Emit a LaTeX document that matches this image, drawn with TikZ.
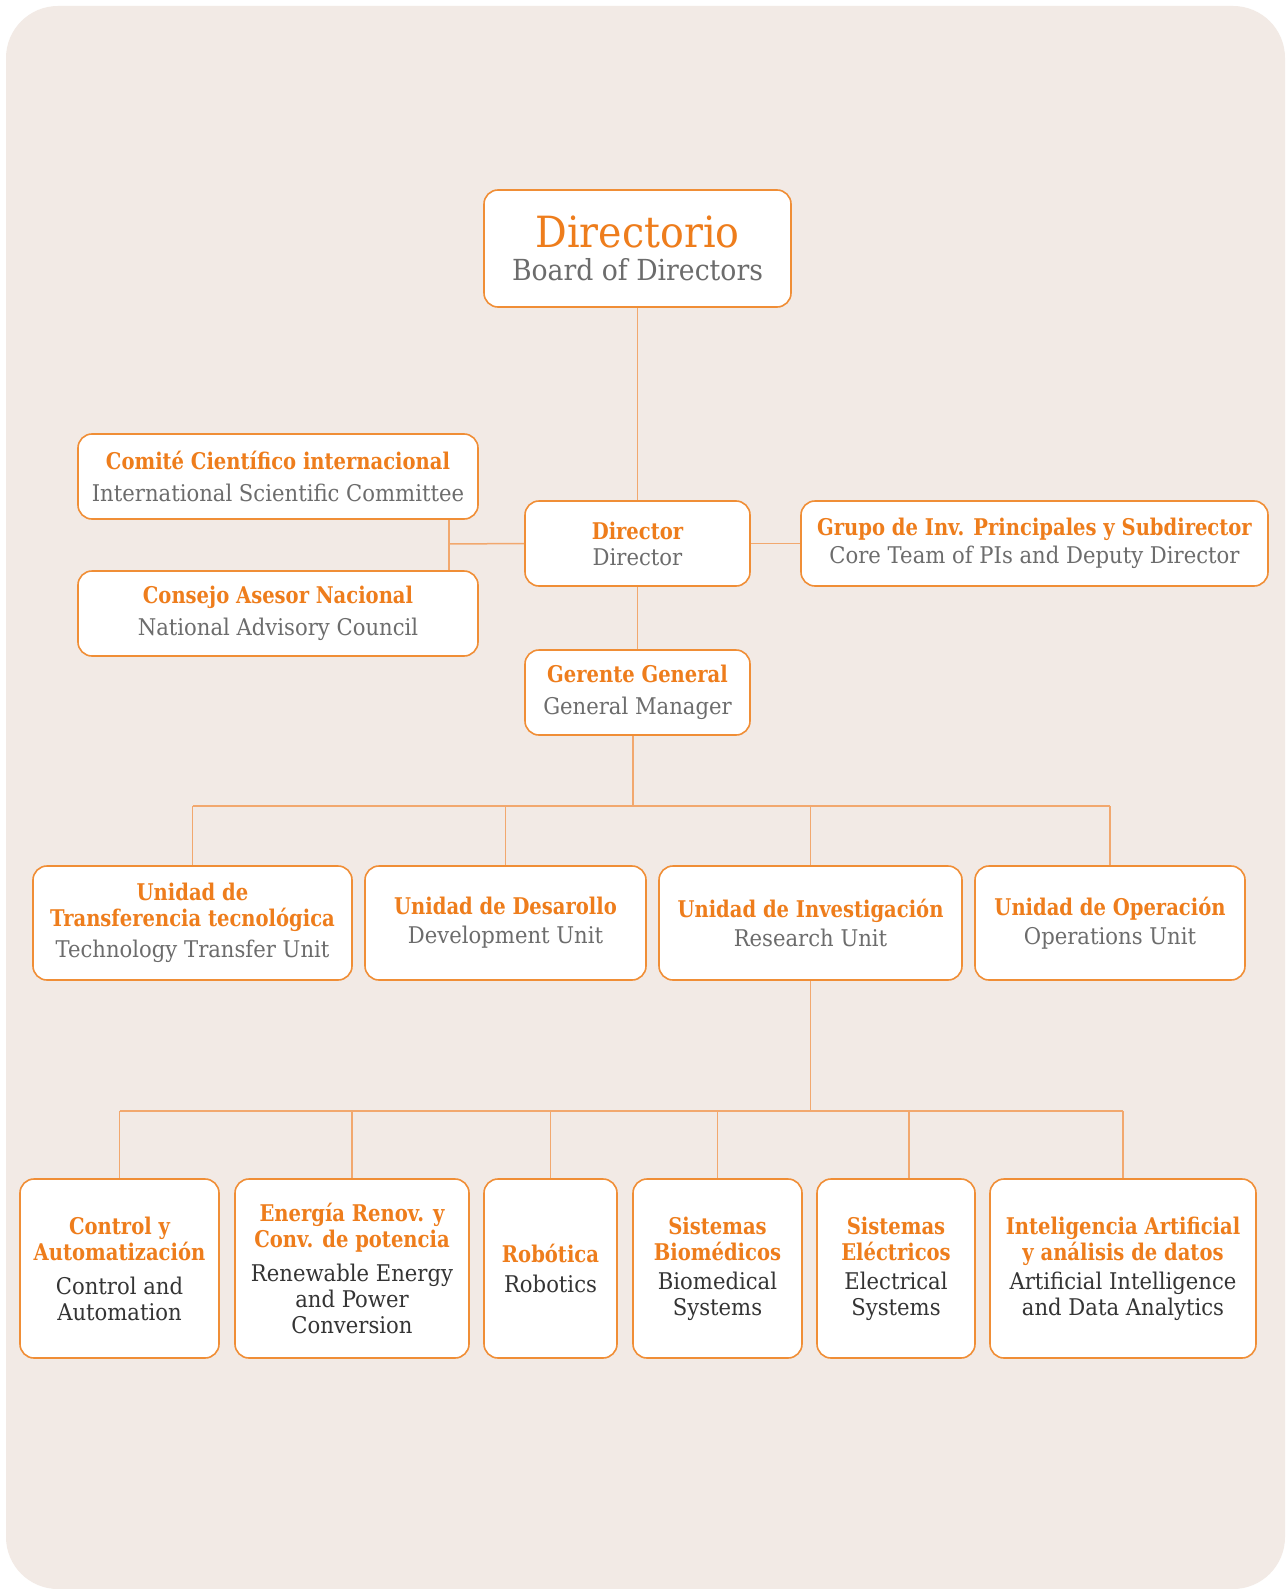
\documentclass[tikz,border=0pt]{standalone}
\usepackage{fontspec}
\setmainfont{DejaVu Serif}[FakeStretch=0.85]
\newfontfamily\engfont{DejaVu Serif}[FakeStretch=0.92]
\usepackage{tikz}
\usetikzlibrary{positioning,calc}
\usepackage{xcolor}
\definecolor{naranja}{RGB}{238,125,28}
\definecolor{borde}{RGB}{240,142,54}
\definecolor{linea}{RGB}{242,168,110}
\definecolor{gris}{RGB}{108,108,108}
\definecolor{oscuro}{RGB}{52,52,52}
\definecolor{fondo}{RGB}{242,234,229}
\newcommand{\es}[1]{{\color{naranja}\bfseries #1}}
\newcommand{\en}[1]{{\engfont\color{gris}#1}}
\newcommand{\enb}[1]{{\engfont\color{oscuro}#1}}

\begin{document}
\begin{tikzpicture}[x=1pt, y=-1pt,
    unit/.style={rectangle, draw=borde, line width=1.6pt, fill=white, rounded corners=14pt,
                 align=center, inner sep=0pt, font=\fontsize{23}{26}\selectfont},
    top/.style={unit, minimum width=307pt, minimum height=117pt, font=\fontsize{29}{33}\selectfont},
    side/.style={unit, minimum height=85pt},
    mid/.style={unit, minimum height=114pt},
    low/.style={unit, minimum height=179pt},
    link/.style={draw=linea, line width=1.5pt}
]
    % background
    \fill[white] (0,0) rectangle (1285,1589);
    \fill[fondo, rounded corners=52pt] (6,6) rectangle (1285,1589);
    \useasboundingbox (0,0) rectangle (1285,1589);

    % top levels
    \node[top]                        (dirio)    at (637.5, 248.5) {{\fontsize{43}{46}\selectfont\engfont\color{naranja}Directorio}\\\en{Board of Directors}};
    \node[side, minimum width=400pt]  (comite)   at (278, 476.5)   {\es{Comité Científico internacional}\\[6pt]\en{International Scientific Committee}};
    \node[side, minimum width=400pt]  (consejo)  at (278, 613.5)   {\es{Consejo Asesor Nacional}\\[6pt]\en{National Advisory Council}};
    \node[side, minimum width=225pt]  (director) at (637.5, 543.5) {\es{Director}\\\en{Director}};
    \node[side, minimum width=467pt]  (grupo)    at (1034.5, 543.5){\es{Grupo de Inv. Principales y Subdirector}\\[2pt]\en{Core Team of PIs and Deputy Director}};
    \node[side, minimum width=225pt]  (gerente)  at (637.5, 692.5) {\es{Gerente General}\\[6pt]\en{General Manager}};

    % units
    \node[mid, minimum width=319pt] (ut) at (192.5, 923) {\es{Unidad de}\\\es{Transferencia tecnológica}\\[5pt]\en{Technology Transfer Unit}};
    \node[mid, minimum width=281pt] (ud) at (505.5, 923) {\es{Unidad de Desarollo}\\[3pt]\en{Development Unit}};
    \node[mid, minimum width=303pt] (ui) at (810.5, 923) {\es{Unidad de Investigación}\\[3pt]\en{Research Unit}};
    \node[mid, minimum width=270pt] (uo) at (1110, 923)  {\es{Unidad de Operación}\\[3pt]\en{Operations Unit}};

    % research lines
    \node[low, minimum width=199pt] (ca) at (119.5, 1268.5) {\es{Control y}\\\es{Automatización}\\[8pt]\enb{Control and}\\\enb{Automation}};
    \node[low, minimum width=234pt] (er) at (352, 1268.5)   {\es{Energía Renov. y}\\\es{Conv. de potencia}\\[8pt]\enb{Renewable Energy}\\\enb{and Power}\\\enb{Conversion}};
    \node[low, minimum width=133pt] (ro) at (550.5, 1268.5) {\es{Robótica}\\[4pt]\enb{Robotics}};
    \node[low, minimum width=169pt] (sb) at (717.5, 1268.5) {\es{Sistemas}\\\es{Biomédicos}\\[3pt]\enb{Biomedical}\\\enb{Systems}};
    \node[low, minimum width=158pt] (se) at (896, 1268.5)   {\es{Sistemas}\\\es{Eléctricos}\\[3pt]\enb{Electrical}\\\enb{Systems}};
    \node[low, minimum width=266pt] (ia) at (1123, 1268.5)  {\es{Inteligencia Artificial}\\\es{y análisis de datos}\\[3pt]\enb{Artificial Intelligence}\\\enb{and Data Analytics}};

    % connectors
    \coordinate (jl) at (449, 544);
    \coordinate (b1) at (633, 806);
    \coordinate (b2) at (810.5, 1111);
    \coordinate (sep) at ($(se.north)+(13,0)$);
    \draw[link] (dirio)  -- (director);
    \draw[link] (director) -- (gerente);
    \draw[link] (director) -- (grupo);
    \draw[link] (director.west) -- (jl);
    \draw[link] (comite.south -| jl) -- (consejo.north -| jl);
    \draw[link] (gerente.south -| b1) -- (b1);
    \draw[link] (ut.north |- b1) -- (uo.north |- b1);
    \foreach \u in {ut,ud,ui,uo} \draw[link] (\u.north |- b1) -- (\u.north);
    \draw[link] (ui) -- (b2);
    \draw[link] (ca.north |- b2) -- (ia.north |- b2);
    \foreach \u in {ca,er,ro,sb,ia} \draw[link] (\u.north |- b2) -- (\u.north);
    \draw[link] (sep |- b2) -- (sep);
\end{tikzpicture}
\end{document}
